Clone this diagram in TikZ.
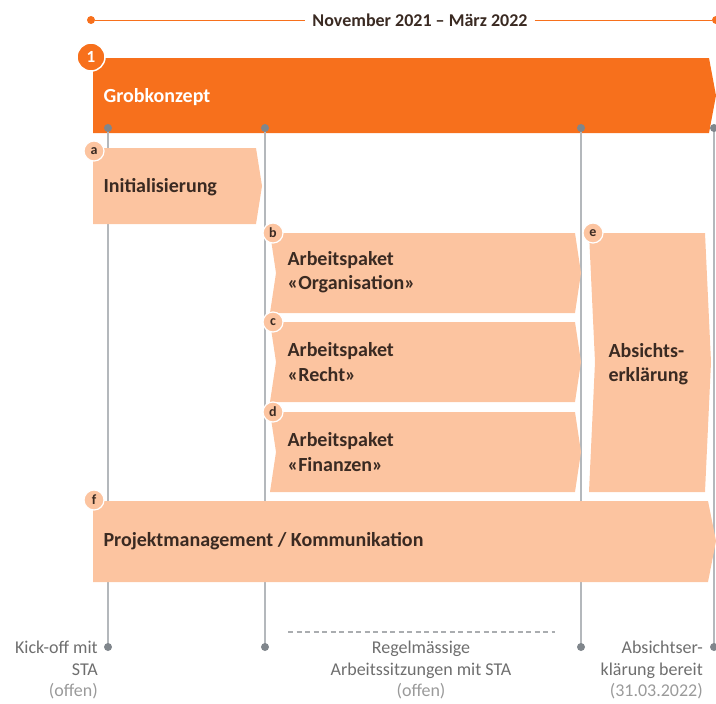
\documentclass[tikz,border=0pt]{standalone}
\usepackage{fontspec}
\setmainfont{Carlito}
\definecolor{orng}{HTML}{F7701C}
\definecolor{peach}{HTML}{FCC4A0}
\definecolor{dark}{HTML}{3A2A22}
\definecolor{vline}{HTML}{B4B8BC}
\definecolor{vdot}{HTML}{80868C}
\definecolor{gtext}{HTML}{6E6E6E}
\definecolor{ltext}{HTML}{9A9A9A}
\begin{document}
\begin{tikzpicture}[x=1pt,y=-1pt,
  chev/.style={fill=peach, draw=none},
  lbl/.style={circle, fill=peach, draw=white, line width=1.2pt, inner sep=0pt, minimum size=20pt, font=\bfseries\fontsize{14}{14}\selectfont, text=dark},
  boxtxt/.style={anchor=west, align=left, font=\bfseries\fontsize{20}{24.5}\selectfont, text=dark},
  vdotn/.style={circle, fill=vdot, inner sep=0pt, minimum size=8pt},
  odot/.style={circle, fill=orng, inner sep=0pt, minimum size=8pt},
  btxt/.style={align=right, font=\fontsize{18}{21.5}\selectfont, text=gtext},
  vconn/.style={draw=vline, line width=1.3pt}
]
\useasboundingbox (0,0) rectangle (716,704);
% top timeline
\node[odot] (t1) at (91,20) {};
\node[odot] (t2) at (716,20) {};
\node[font=\bfseries\fontsize{18}{18}\selectfont, text=dark, inner xsep=7pt] (ttl) at (420,20) {November 2021 – März 2022};
\draw[orng, line width=1pt] (t1) -- (ttl.west);
\draw[orng, line width=1pt] (ttl.east) -- (t2);
% Grobkonzept bar
\fill[orng] (93,58) -- (709,58) -- (716,95.5) -- (709,133) -- (93,133) -- cycle;
\node[anchor=west, font=\bfseries\fontsize{20}{20}\selectfont, text=white] (grob) at (100,97) {Grobkonzept};
\node[circle, fill=orng, draw=white, line width=1.5pt, inner sep=0pt, minimum size=28pt, font=\bfseries\fontsize{17}{17}\selectfont, text=white] (one) at (91,57) {1};
% vertical milestone lines
\coordinate (p1) at (108,128); \coordinate (q1) at (108,647);
\coordinate (p2) at (265,128); \coordinate (q2) at (265,647);
\coordinate (p3) at (581,128); \coordinate (q3) at (581,647);
\coordinate (p4) at (714,128); \coordinate (q4) at (714,647);
\draw[vconn] (p1) -- (q1);
\draw[vconn] (p2) -- (q2);
\draw[vconn] (p3) -- (q3);
\draw[vconn] (p4) -- (q4);
% box a
\fill[chev] (93,148) -- (256,148) -- (262,186) -- (256,224) -- (93,224) -- cycle;
\node[boxtxt] (ta) at (100,187) {Initialisierung};
\node[lbl] (la) at (94,151) {a};
% box b
\fill[chev] (270,233) -- (575,233) -- (581,273) -- (575,313) -- (270,313) -- (276,273) -- cycle;
\node[boxtxt] (tb) at (284,272) {Arbeitspaket\\«Organisation»};
\node[lbl] (lb) at (273,233) {b};
% box c
\fill[chev] (270,322) -- (575,322) -- (581,362) -- (575,402) -- (270,402) -- (276,362) -- cycle;
\node[boxtxt] (tc) at (284,362) {Arbeitspaket\\«Recht»};
\node[lbl] (lc) at (273,322) {c};
% box d
\fill[chev] (270,412) -- (575,412) -- (581,452) -- (575,492) -- (270,492) -- (276,452) -- cycle;
\node[boxtxt] (td) at (284,452) {Arbeitspaket\\«Finanzen»};
\node[lbl] (ld) at (273,412) {d};
% box e
\fill[chev] (589,233) -- (705,233) -- (711,362) -- (705,492) -- (589,492) -- (595,362) -- cycle;
\node[boxtxt] (te) at (605,364) {Absichts-\\erklärung};
\node[lbl] (le) at (593,233) {e};
% box f
\fill[chev] (93,501) -- (708,501) -- (716,541) -- (708,582) -- (93,582) -- cycle;
\node[boxtxt] (tf) at (100,541) {Projektmanagement / Kommunikation};
\node[lbl] (lf) at (94,500) {f};
% milestone dots
\node[vdotn] (d1) at (p1) {};
\node[vdotn] (d2) at (p2) {};
\node[vdotn] (d3) at (p3) {};
\node[vdotn] (d4) at (p4) {};
\node[vdotn] (e1) at (q1) {};
\node[vdotn] (e2) at (q2) {};
\node[vdotn] (e3) at (q3) {};
\node[vdotn] (e4) at (q4) {};
% bottom texts
\node[btxt, anchor=north east, inner sep=0pt] (k1) at (98,641) {Kick-off mit\\STA\\\textcolor{ltext}{(offen)}};
\node[btxt, align=center, anchor=north, inner sep=0pt] (k2) at (421,641) {Regelmässige\\Arbeitssitzungen mit STA\\\textcolor{ltext}{(offen)}};
\node[btxt, anchor=north east, inner sep=0pt] (k3) at (703,641) {Absichtser-\\klärung bereit\\\textcolor{ltext}{(31.03.2022)}};
\coordinate (ds) at (288,632); \coordinate (de) at (555,632);
\draw[vline!80!gray, line width=1.6pt, dash pattern=on 5pt off 3.5pt] (ds) -- (de);
\end{tikzpicture}
\end{document}
